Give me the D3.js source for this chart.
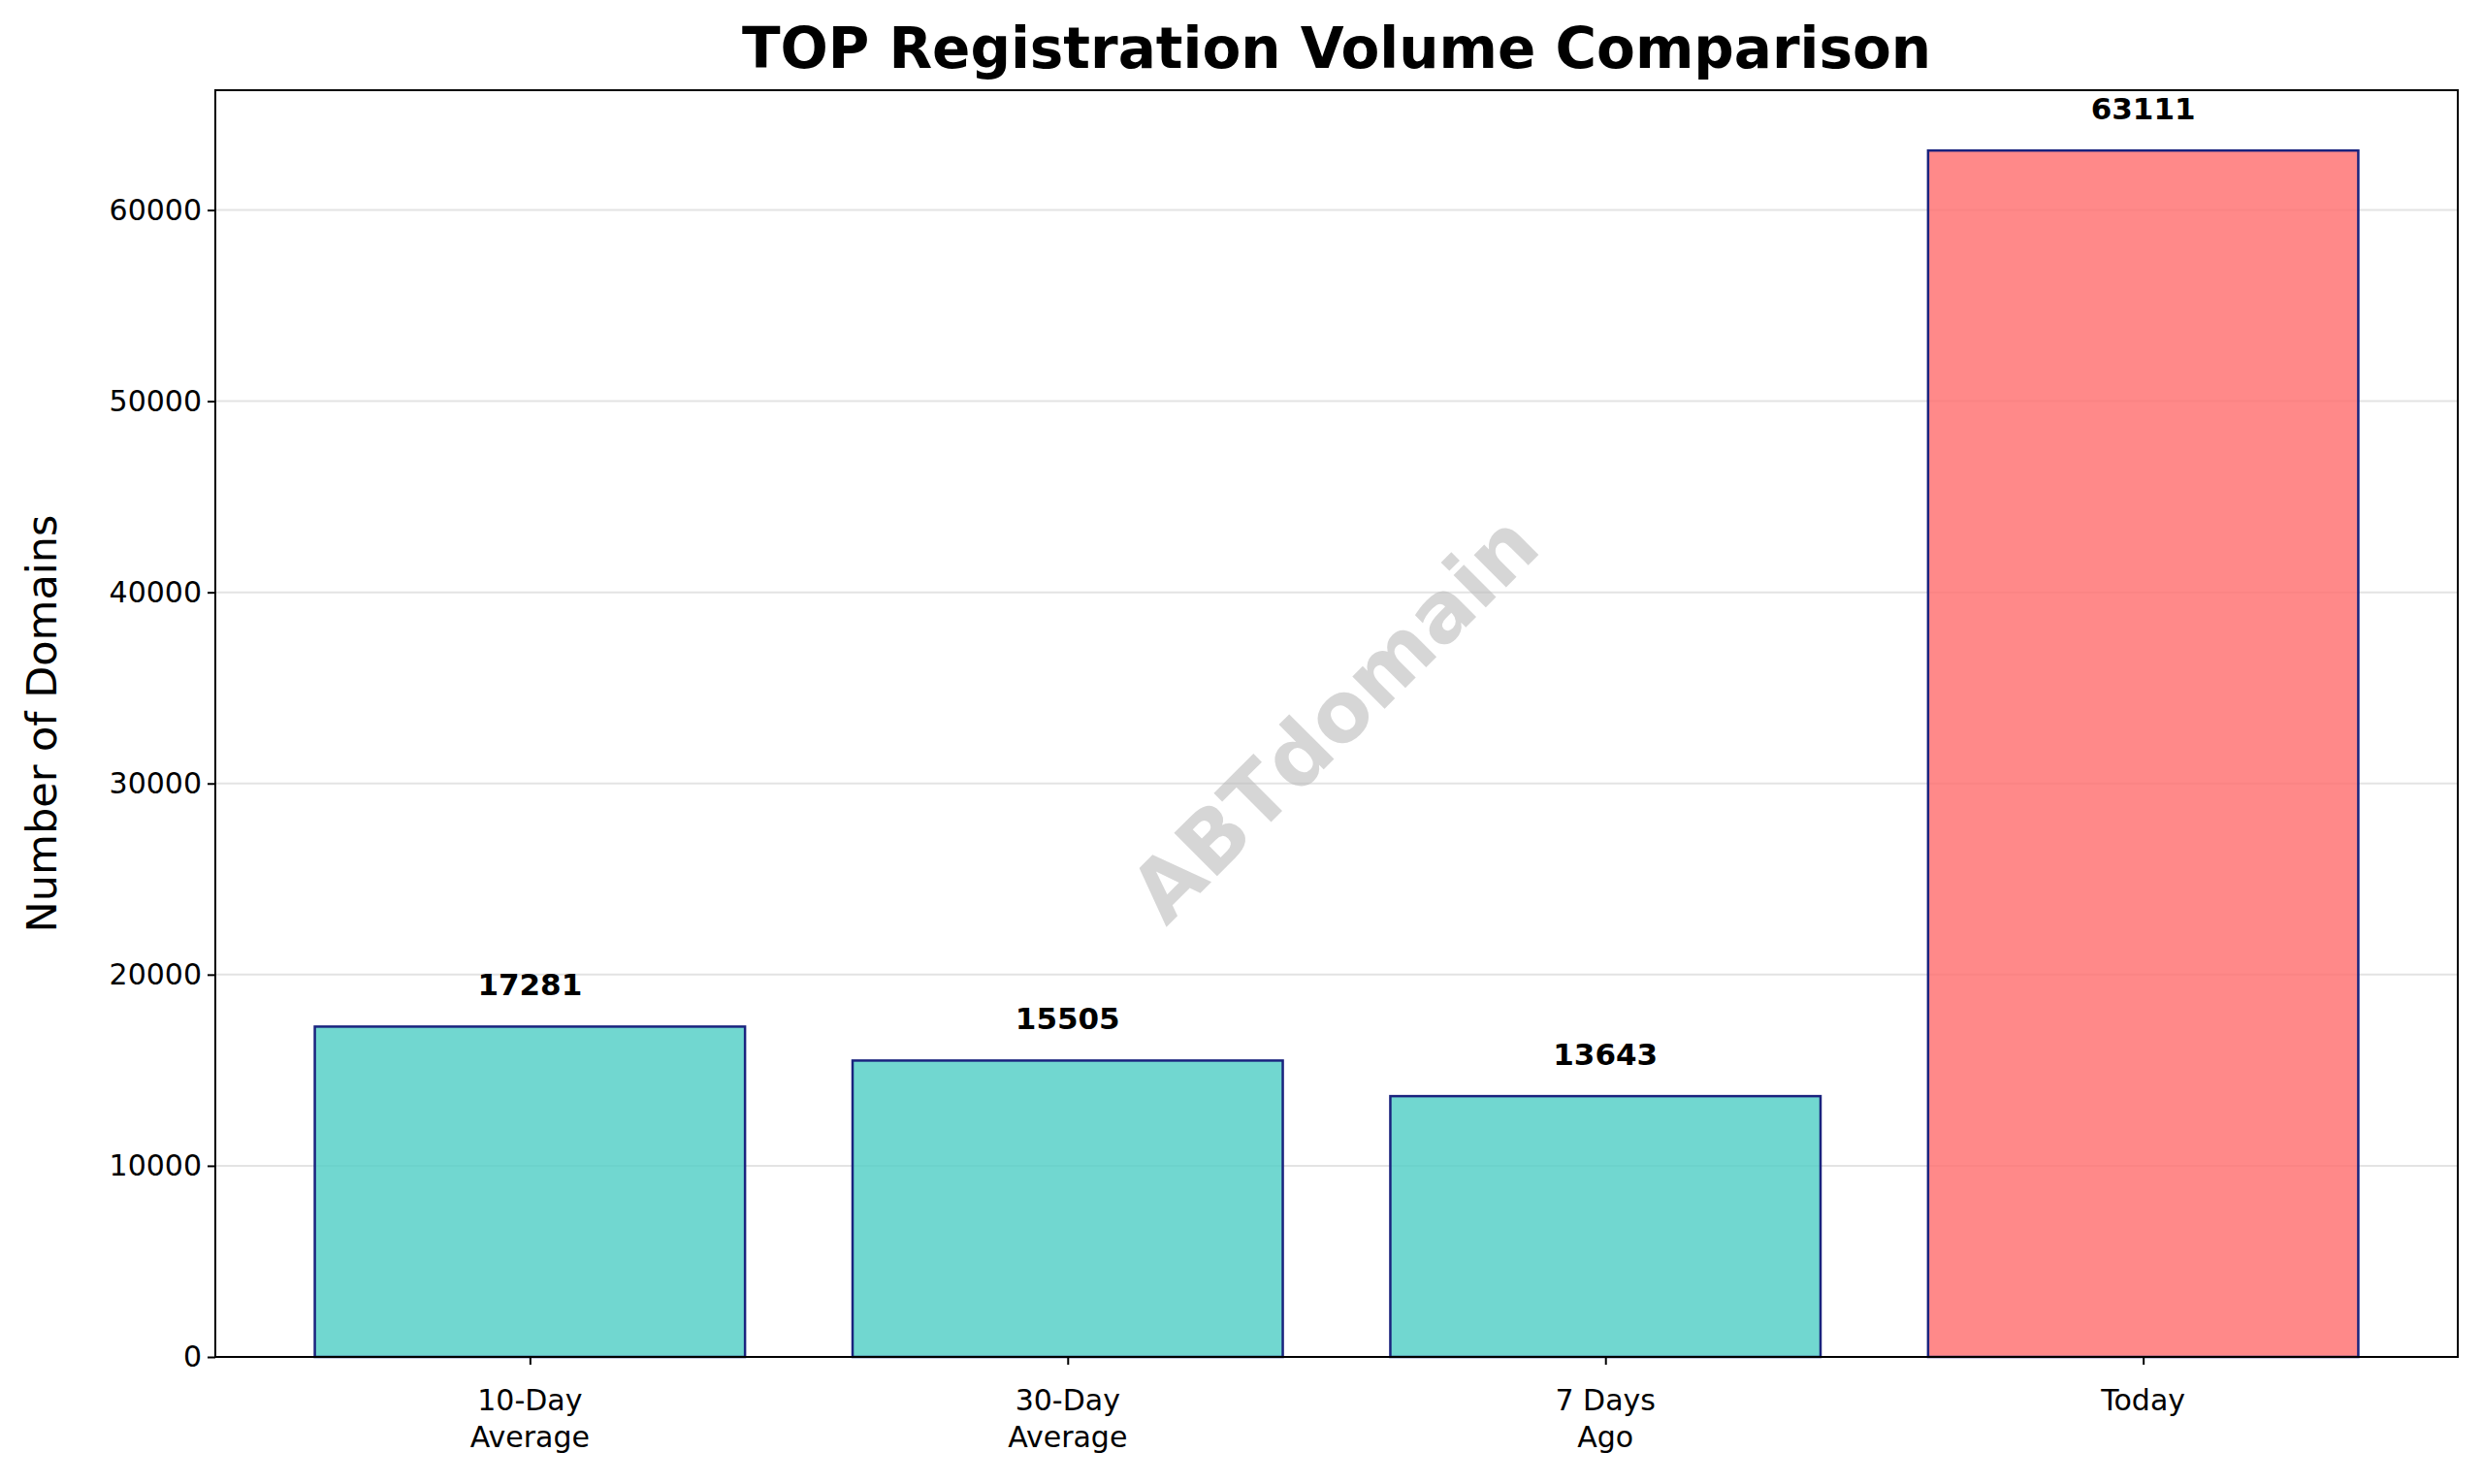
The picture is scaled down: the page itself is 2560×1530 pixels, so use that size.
<!DOCTYPE html><html><head><meta charset="utf-8">
<script src="https://cdn.jsdelivr.net/npm/d3@7"></script>
<style>body{margin:0;background:#fff}text{font-family:"DejaVu Sans",sans-serif}</style></head><body>
<svg id="c" width="2560" height="1530"></svg>
<script>
const categories=[["10-Day","Average"],["30-Day","Average"],["7 Days","Ago"],["Today"]];
const values=[17281,15505,13643,63111];
const colors=["#4ECDC4","#4ECDC4","#4ECDC4","#FF6B6B"];
const yTicks=[0,10000,20000,30000,40000,50000,60000];
const svg=d3.select("#c");
const L=222,R=2534,T=93,B=1399;
const x=d3.scaleLinear().domain([-0.585,3.585]).range([L,R]);
const y=d3.scaleLinear().domain([0,d3.max(values)*1.05]).range([B,T]);
const g=svg.append("g");
g.selectAll(".grid").data(yTicks.slice(1)).join("line").attr("x1",L).attr("x2",R)
 .attr("y1",d=>y(d)).attr("y2",d=>y(d)).attr("stroke","#e3e3e3").attr("stroke-width",2);
g.selectAll(".bar").data(values).join("rect").attr("x",(d,i)=>x(i-0.4)).attr("width",x(0.8)-x(0))
 .attr("y",d=>y(d)).attr("height",d=>B-y(d)).attr("fill",(d,i)=>colors[i]).attr("fill-opacity",0.8)
 .attr("stroke","#1a237e").attr("stroke-width",2.5);
g.selectAll(".vl").data(values).join("text").attr("x",(d,i)=>x(i)).attr("y",d=>y(d)-32)
 .attr("text-anchor","middle").attr("font-weight","bold").attr("font-size",31).text(d=>d);
svg.append("text").attr("transform",`translate(1380,745) rotate(-45)`).attr("text-anchor","middle")
 .attr("dominant-baseline","middle").attr("font-size",86).attr("font-weight","bold").attr("fill","#bbbbbb")
 .attr("fill-opacity",0.6).text("ABTdomain");
svg.append("rect").attr("x",L).attr("y",T).attr("width",R-L).attr("height",B-T).attr("fill","none").attr("stroke","#000").attr("stroke-width",2);
const ya=svg.append("g").attr("transform",`translate(${L},0)`).call(d3.axisLeft(y).tickValues(yTicks).tickFormat(d3.format("d")).tickSize(8).tickPadding(6));
ya.select(".domain").remove();
ya.selectAll("text").attr("font-size",30).attr("fill","#000").style("font-family","DejaVu Sans");
ya.selectAll("line").attr("stroke-width",2);
const xa=svg.append("g").attr("transform",`translate(0,${B})`).call(d3.axisBottom(x).tickValues([0,1,2,3]).tickFormat("").tickSize(8));
xa.select(".domain").remove();xa.selectAll("line").attr("stroke-width",2);
categories.forEach((c,i)=>{const t=svg.append("text").attr("x",x(i)).attr("y",B+55).attr("text-anchor","middle").attr("font-size",30);
 c.forEach((s,j)=>t.append("tspan").attr("x",x(i)).attr("dy",j?38:0).text(s));});
svg.append("text").attr("transform",`translate(58,${(T+B)/2}) rotate(-90)`).attr("text-anchor","middle").attr("font-size",43).text("Number of Domains");
svg.append("text").attr("x",(L+R)/2).attr("y",70).attr("text-anchor","middle").attr("font-size",58).attr("font-weight","bold").text("TOP Registration Volume Comparison");
</script></body></html>
